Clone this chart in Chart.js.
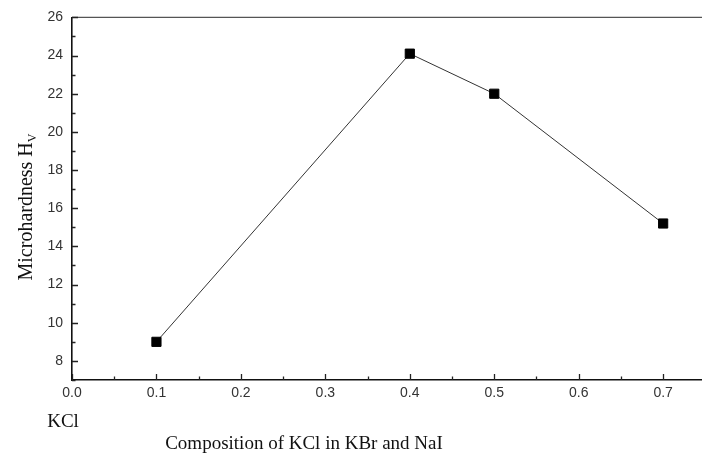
<!DOCTYPE html>
<html>
<head>
<meta charset="utf-8">
<script src="https://cdn.jsdelivr.net/npm/chart.js@4.4.1/dist/chart.umd.min.js"></script>
<style>
  html, body { margin: 0; padding: 0; background: #fff; }
  #wrap { width: 702px; height: 453px; position: relative; }
</style>
</head>
<body>
<div id="wrap"><canvas id="hardnessChart"></canvas></div>
<script>
// data
const kclFraction = [0.1, 0.4, 0.5, 0.7];
const hardness = [9.0, 24.1, 22.0, 15.2];

const xMin = 0, xMax = 0.746, xStep = 0.05;
const yMin = 7, yMax = 26, yStep = 1;

const yTitle = 'Microhardness H';
const yTitleSub = 'V';
const xTitle = 'Composition of KCl in KBr and NaI';
const xCornerLabel = 'KCl';

const serif = "'Liberation Serif', 'Times New Roman', serif";
const sans = "'Liberation Sans', Arial, sans-serif";

// inward ticks, top frame line and the titles
const framePlugin = {
  id: 'frame',
  afterDraw(chart) {
    const { ctx, chartArea: a, scales: { x, y } } = chart;
    ctx.save();
    ctx.lineWidth = 1.3;

    // top frame
    ctx.strokeStyle = '#555';
    ctx.beginPath();
    ctx.moveTo(a.left, a.top);
    ctx.lineTo(chart.width, a.top);
    ctx.stroke();

    ctx.strokeStyle = '#222';
    ctx.beginPath();
    x.ticks.forEach(t => {
      const px = Math.round(x.getPixelForValue(t.value)) + 0.5;
      const major = Math.round(t.value * 100) % 10 === 0;
      ctx.moveTo(px, a.bottom);
      ctx.lineTo(px, a.bottom - (major ? 6 : 3.5));
    });
    y.ticks.forEach(t => {
      const py = Math.round(y.getPixelForValue(t.value)) + 0.5;
      const major = Math.round(t.value) % 2 === 0;
      ctx.moveTo(a.left, py);
      ctx.lineTo(a.left + (major ? 6 : 3.5), py);
    });
    ctx.stroke();

    // y title with subscript
    ctx.fillStyle = '#111';
    ctx.font = '20px ' + serif;
    const mainW = ctx.measureText(yTitle).width;
    ctx.font = '12px ' + serif;
    const subW = ctx.measureText(yTitleSub).width;
    const total = mainW + subW;
    ctx.translate(32, 207);
    ctx.rotate(-Math.PI / 2);
    ctx.textBaseline = 'alphabetic';
    ctx.textAlign = 'left';
    ctx.font = '20px ' + serif;
    ctx.fillText(yTitle, -total / 2, 0);
    ctx.font = '12px ' + serif;
    ctx.fillText(yTitleSub, -total / 2 + mainW, 4);
    ctx.restore();

    ctx.save();
    ctx.fillStyle = '#111';
    ctx.font = '19px ' + serif;
    ctx.textAlign = 'center';
    ctx.textBaseline = 'alphabetic';
    ctx.fillText(xCornerLabel, 63, 427);
    ctx.fillText(xTitle, 304, 449);
    ctx.restore();
  }
};

const ctx = document.getElementById('hardnessChart');

new Chart(ctx, {
  type: 'line',
  data: {
    datasets: [{
      data: kclFraction.map((v, i) => ({ x: v, y: hardness[i] })),
      borderColor: '#333',
      borderWidth: 1,
      pointStyle: 'rect',
      pointRadius: 6.5,
      pointBorderWidth: 1,
      pointBackgroundColor: '#000',
      pointBorderColor: '#000',
      tension: 0,
      fill: false
    }]
  },
  options: {
    responsive: true,
    maintainAspectRatio: false,
    animation: false,
    layout: {
      autoPadding: false,
      padding: { top: 13, right: 0, bottom: 0, left: 0 }
    },
    plugins: {
      legend: { display: false },
      tooltip: { enabled: false }
    },
    scales: {
      x: {
        type: 'linear',
        min: xMin,
        max: xMax,
        grid: { display: false, drawTicks: false },
        border: { display: true, color: '#111', width: 1.6 },
        ticks: {
          stepSize: xStep,
          includeBounds: false,
          autoSkip: false,
          maxRotation: 0,
          padding: 5,
          color: '#333',
          font: { family: sans, size: 14 },
          callback: (v) => Math.round(v * 100) % 10 === 0 ? v.toFixed(1) : ''
        },
        afterFit: (scale) => {
          scale.height = 73;
          scale.paddingLeft = 0;
          scale.paddingRight = 0;
        }
      },
      y: {
        min: yMin,
        max: yMax,
        grid: { display: false, drawTicks: false },
        border: { display: true, color: '#111', width: 1.6 },
        ticks: {
          stepSize: yStep,
          autoSkip: false,
          padding: 9,
          color: '#333',
          font: { family: sans, size: 14 },
          callback: (v) => Math.round(v) % 2 === 0 ? String(v) : ''
        },
        afterFit: (scale) => { scale.width = 72; }
      }
    }
  },
  plugins: [framePlugin]
});
</script>
</body>
</html>
